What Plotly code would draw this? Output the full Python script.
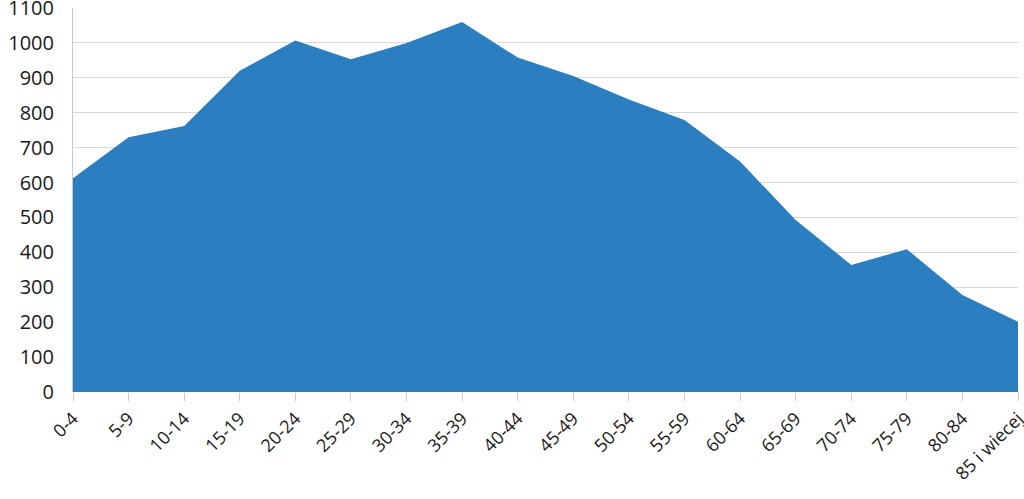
import plotly.graph_objects as go

# Age groups and counts
age_groups = ['0-4', '5-9', '10-14', '15-19', '20-24', '25-29', '30-34', '35-39',
              '40-44', '45-49', '50-54', '55-59', '60-64', '65-69', '70-74',
              '75-79', '80-84', '85 i wiecej']
counts = [612, 730, 762, 920, 1007, 953, 1000, 1060,
          958, 905, 838, 779, 660, 493, 364, 409, 278, 201]
y_ticks = list(range(0, 1101, 100))

fig = go.Figure()

fig.add_trace(go.Scatter(
    x=age_groups, y=counts,
    mode='lines', fill='tozeroy',
    line=dict(width=0, color='#2B7FC1'),
    fillcolor='#2B7FC1',
    hoverinfo='x+y',
))

fig.update_layout(
    width=1024, height=499,
    margin=dict(l=73, r=6, t=8, b=107),
    paper_bgcolor='white', plot_bgcolor='white',
    showlegend=False,
    font=dict(family='Open Sans', size=20, color='#1a1a1a'),
)

fig.update_xaxes(
    type='category',
    range=[0, len(age_groups) - 1],
    tickangle=-45,
    ticks='outside', ticklen=8, tickcolor='#c8c8c8',
    showgrid=False,
    showline=False,
    automargin=False,
    tickfont=dict(size=18),
)

fig.update_yaxes(
    range=[0, 1100],
    tickvals=y_ticks,
    showgrid=True, gridcolor='#d9d9d9', gridwidth=1,
    showline=True, linecolor='#c8c8c8', linewidth=1,
    zeroline=False,
    ticks='', ticklabelstandoff=14,
    ticklabeloverflow='allow',
    automargin=False,
)

# drop the default 8px body margin so the figure fills the window
fig.write_html("out.html", config={'displayModeBar': False},
               post_script="document.body.style.margin='0';")
